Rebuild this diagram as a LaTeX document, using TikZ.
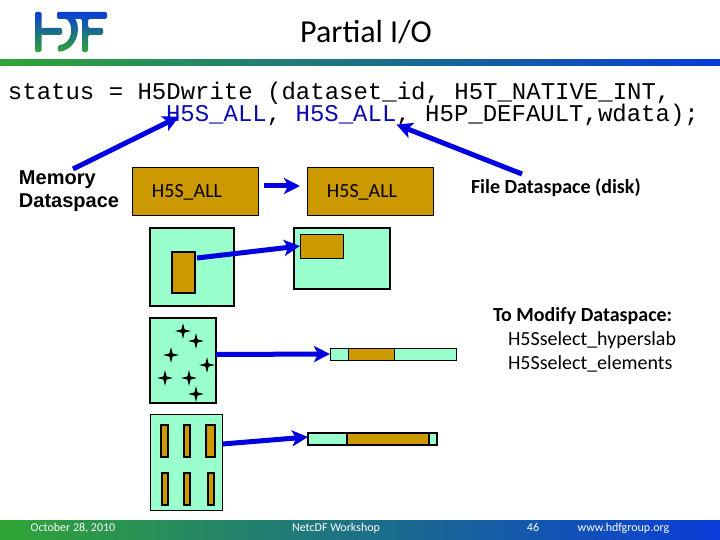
\documentclass[tikz,border=0pt]{standalone}
\usepackage{fontspec}
\setmainfont{Carlito}
\newfontfamily\codefont{Liberation Mono}
\newfontfamily\labelfont{Liberation Sans}
\usepackage{xcolor}
\usetikzlibrary{arrows.meta,positioning,shapes.geometric}
\definecolor{logoblue}{HTML}{0A3CD8}
\definecolor{logogreen}{HTML}{2FA535}
\definecolor{callblue}{HTML}{0000E0}
\definecolor{codeblue}{HTML}{0A0AB4}
\definecolor{spacegreen}{HTML}{99FFCC}
\definecolor{selgold}{HTML}{CC9900}
\newcommand{\pxfont}[1]{\fontsize{#1}{#1}\selectfont}

\begin{document}
\begin{tikzpicture}[
  x=1pt,y=-1pt,
  inner sep=0pt,outer sep=0pt,
  font=\pxfont{20},
  codeline/.style={anchor=base west,font=\codefont\pxfont{24}},
  boldlabel/.style={anchor=west,font=\bfseries\pxfont{20}},
  space/.style={draw=black,fill=spacegreen,anchor=north west,line width=1.6pt},
  sel/.style={draw=black,fill=selgold,anchor=west,line width=1.4pt},
  allbox/.style={draw=black,fill=selgold,line width=1pt,minimum width=126pt,minimum height=48pt},
  sparkle/.style={star,star points=4,star point ratio=3.6,fill=black,minimum size=16pt},
  foot/.style={text=white,font=\pxfont{12},anchor=mid},
  callout/.style={draw=callblue,line width=5pt,-{Stealth[length=16pt,width=16pt,inset=4pt]}}
]
\useasboundingbox (0,0) rectangle (720,540);
\fill[white] (0,0) rectangle (720,540);
% title, logo and the two bands
\shade[left color=logogreen,right color=logoblue] (0,60) rectangle (720,66);
\shade[left color=logogreen,right color=logoblue] (0,520) rectangle (720,540);
\shade[top color=logoblue,bottom color=logogreen,rounded corners=1.5pt]
  (35,12) rectangle (41.5,52)
  (41,28) rectangle (62,35)
  (57,12) -- (107,12) -- (107,19) -- (88,19) -- (88,28) -- (103,28) -- (103,35) -- (88,35) -- (88,52) -- (82,52) -- (82,19) -- (57,19) -- cycle
  (68,14) .. controls (82,18) and (82,48) .. (58,52) -- (58,45) .. controls (74,44) and (74,22) .. (64,18) -- cycle;
\node[font=\pxfont{32}] (title) at (366,32) {Partial I/O};
% the call
\node[codeline] (line1) at (8,100) {status = H5Dwrite (dataset\_id, H5T\_NATIVE\_INT,};
\node[codeline,text=codeblue] (sall1) at (166,122) {H5S\_ALL};
\node[codeline,right=0pt of sall1.base east,anchor=base west] (comma1) {,\kern14.4pt};
\node[codeline,text=codeblue,right=0pt of comma1.base east,anchor=base west] (sall2) {H5S\_ALL};
\node[codeline,right=0pt of sall2.base east,anchor=base west] (rest) {,~H5P\_DEFAULT,wdata);};
% dataspace labels
\node[font=\labelfont\bfseries\pxfont{20},align=left,anchor=north west] (mem) at (19,171)
  {Memory\\[3pt]Dataspace};
\node[allbox] (all1) at (195,192) {\hspace{-16pt}H5S\_ALL};
\node[allbox,right=49pt of all1] (all2) {\hspace{-16pt}H5S\_ALL};
\node[boldlabel] (disk) at (471,188) {File Dataspace (disk)};
\node[boldlabel] (modify) at (493,316) {To Modify Dataspace:};
\node[below=24pt of modify.west,anchor=west,xshift=15pt] (hyper) {H5Sselect\_hyperslab};
\node[below=24pt of hyper.west,anchor=west] (elems) {H5Sselect\_elements};
% block to block
\node[space,minimum width=84pt,minimum height=78pt] (blockmem) at (150,228) {};
\node[sel,minimum width=23pt,minimum height=41pt,right=22pt of blockmem.west,yshift=-5.5pt,line width=1.6pt] (blocksel) {};
\node[space,minimum width=96pt,minimum height=61pt] (blockfile) at (294,228) {};
\node[sel,minimum width=43pt,minimum height=24pt,anchor=north west,line width=1pt] (fileslab) at (300,234) {};
% points
\node[space,minimum width=66pt,minimum height=85pt] (ptsmem) at (150,318) {};
\foreach \i/\x/\y in {1/183/331,2/196/341,3/171/355,4/207/365,5/165/378,6/189/378,7/196/394}
  \node[sparkle] (pt\i) at (\x,\y) {};
\node[space,minimum width=126.5pt,minimum height=12pt,line width=1pt] (bar1) at (330,348) {};
\node[sel,minimum width=46pt,minimum height=12pt,right=18pt of bar1.west,line width=1pt] (bar1sel) {};
% columns
\node[space,minimum width=72pt,minimum height=96pt,line width=1pt] (colmem) at (150.5,414) {};
\foreach \n/\x/\w/\y in {a/164.5/7/441,b/187/6/441,c/210.5/9/441,d/165/6/489,e/187/6/489,f/211/6/489}
  \node[sel,minimum width=\w pt,minimum height=32pt,anchor=center] (col\n) at (\x,\y) {};
\node[space,minimum width=129pt,minimum height=12pt,line width=1.2pt] (bar2) at (308,433) {};
\node[sel,minimum width=82pt,minimum height=12pt,right=39pt of bar2.west,line width=1.2pt] (bar2sel) {};
% arrows
\draw[callout] ([xshift=4pt,yshift=2pt]mem.north) -- ([shift={(13pt,8pt)}]sall1.south west);
\draw[callout] ([xshift=51pt,yshift=5pt]disk.north west) -- (sall2.south east);
\draw[callout] ([shift={(6pt,6pt)}]all1.east) -- ([shift={(-7pt,6pt)}]all2.west);
\draw[callout] ([shift={(2pt,-6pt)}]blocksel.north east) -- (fileslab.west);
\draw[callout] ([yshift=6pt]ptsmem.east) -- (bar1.west);
\draw[callout] ([yshift=18pt]colmem.east) -- ([yshift=2pt]bar2.west);
% footer
\node[foot] (date) at (73,529) {October 28, 2010};
\node[foot] (work) at (336,529) {NetcDF Workshop};
\node[foot] (num) at (533,529) {46};
\node[foot] (url) at (623.5,529) {www.hdfgroup.org};
\end{tikzpicture}
\end{document}
